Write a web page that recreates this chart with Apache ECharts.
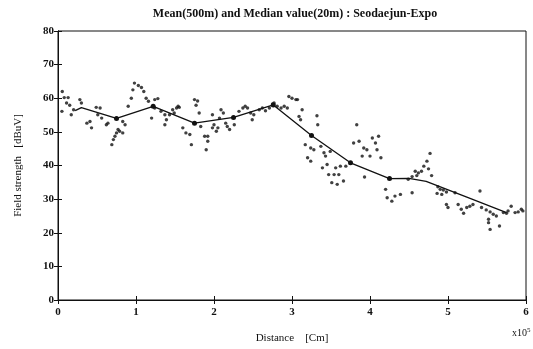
<!DOCTYPE html>
<html>
<head>
<meta charset="utf-8">
<script src="https://cdn.jsdelivr.net/npm/echarts@6/dist/echarts.min.js"></script>
<style>
  html, body { margin: 0; padding: 0; background: #fff; }
  #chart { width: 533px; height: 349px; }
</style>
</head>
<body>
<div id="chart"></div>
<script>
// median values (20m), distance in x10^5 Cm
const medianX = [
  0.05, 0.055, 0.08, 0.11, 0.13, 0.15, 0.17, 0.2, 0.28, 0.3, 0.37, 0.41, 0.43, 0.49, 0.51, 0.54, 0.56, 0.62, 0.64,
  0.69, 0.71, 0.73, 0.75, 0.77, 0.79, 0.83, 0.83, 0.86, 0.9, 0.94, 0.96, 0.98, 1.03, 1.07, 1.1, 1.13, 1.16, 1.2,
  1.24, 1.24, 1.28, 1.32, 1.37, 1.37, 1.39, 1.43, 1.47, 1.49, 1.52, 1.54, 1.555, 1.6, 1.64, 1.69, 1.71, 1.75,
  1.77, 1.79, 1.81, 1.83, 1.88, 1.9, 1.92, 1.92, 1.98, 1.98, 2.0, 2.03, 2.05, 2.07, 2.09, 2.12, 2.15, 2.17, 2.2,
  2.26, 2.32, 2.37, 2.4, 2.43, 2.47, 2.49, 2.51, 2.58, 2.62, 2.66, 2.71, 2.75, 2.77, 2.81, 2.86, 2.9, 2.94, 2.96,
  3.0, 3.05, 3.07, 3.09, 3.11, 3.13, 3.17, 3.2, 3.24, 3.24, 3.28, 3.32, 3.33, 3.37, 3.39, 3.41, 3.43, 3.45, 3.47,
  3.49, 3.51, 3.54, 3.56, 3.58, 3.6, 3.62, 3.66, 3.69, 3.79, 3.83, 3.86, 3.9, 3.92, 3.93, 3.96, 4.0, 4.03, 4.07,
  4.09, 4.11, 4.14, 4.2, 4.22, 4.28, 4.32, 4.39, 4.49, 4.54, 4.54, 4.58, 4.6, 4.62, 4.66, 4.69, 4.73, 4.75, 4.77,
  4.79, 4.86, 4.87, 4.9, 4.92, 4.94, 4.98, 4.98, 5.0, 5.09, 5.13, 5.17, 5.2, 5.24, 5.28, 5.32, 5.41, 5.43, 5.49,
  5.52, 5.52, 5.54, 5.54, 5.58, 5.62, 5.66, 5.71, 5.75, 5.77, 5.81, 5.86, 5.9, 5.94, 5.96
];
const medianY = [
  56.1, 62.0, 60.2, 58.6, 60.2, 57.9, 55.1, 56.6, 59.6, 58.6, 52.6, 53.1, 51.2, 57.3, 55.1, 57.1, 54.1, 52.1, 52.6,
  46.2, 47.7, 48.7, 49.7, 50.7, 50.2, 53.1, 49.7, 52.1, 57.6, 60.0, 62.5, 64.5, 63.8, 63.2, 62.0, 60.0, 59.1, 54.1,
  59.6, 57.1, 59.9, 56.1, 55.1, 52.1, 53.6, 55.1, 56.6, 55.6, 57.1, 57.6, 57.3, 51.2, 49.7, 49.2, 46.2, 59.6,
  57.9, 59.2, 55.6, 51.6, 48.7, 44.7, 48.7, 47.2, 55.1, 51.2, 52.1, 50.2, 51.2, 54.1, 56.6, 55.6, 52.6, 51.6, 50.7,
  52.1, 56.1, 57.1, 57.6, 57.1, 55.6, 53.6, 55.1, 56.6, 57.1, 56.3, 57.1, 58.3, 58.6, 57.6, 57.1, 57.6, 57.1, 60.5,
  60.0, 59.6, 59.6, 54.6, 53.6, 56.6, 46.2, 42.3, 45.2, 41.3, 44.7, 54.8, 52.1, 45.7, 39.3, 43.8, 42.8, 40.3, 37.3,
  44.2, 34.9, 37.3, 39.3, 34.4, 37.3, 39.8, 35.4, 39.8, 46.7, 52.1, 47.2, 42.8, 45.2, 36.6, 44.7, 42.8, 48.2, 46.7,
  44.7, 48.7, 42.3, 32.9, 30.4, 29.4, 30.9, 31.4, 35.9, 31.9, 36.7, 38.3, 37.0, 37.8, 38.3, 39.8, 41.3, 39.0, 43.6,
  37.0, 31.7, 33.7, 32.9, 31.4, 32.7, 32.1, 28.4, 27.5, 31.9, 28.4, 27.0, 25.8, 27.5, 27.9, 28.4, 32.4, 27.5, 26.8,
  24.0, 23.0, 26.2, 21.0, 25.5, 25.0, 22.0, 26.0, 25.8, 26.5, 27.9, 26.0, 26.2, 27.0, 26.5
];
// mean values (500m)
const meanX = [0.22, 0.3, 0.75, 1.22, 1.75, 2.25, 2.76, 3.25, 3.75, 4.25, 4.5, 4.72, 5.25, 5.75];
const meanY = [56.3, 57.2, 54.0, 57.6, 52.6, 54.3, 58.0, 48.9, 40.8, 36.1, 36.2, 35.3, 30.5, 26.0];
const meanMarked = [0.75, 1.22, 1.75, 2.25, 2.76, 3.25, 3.75, 4.25];

const xTicks = [0, 1, 2, 3, 4, 5, 6];
const yTicks = [0, 10, 20, 30, 40, 50, 60, 70, 80];

const chart = echarts.init(document.getElementById('chart'));
const font = 'Liberation Serif';
const ink = '#111';

const tickStyle = { show: true, inside: true, length: 4, lineStyle: { color: ink, width: 1 } };

chart.setOption({
  animation: false,
  backgroundColor: '#fff',
  title: {
    text: 'Mean(500m) and Median value(20m) : Seodaejun-Expo',
    left: 290, textAlign: 'center', top: 3,
    textStyle: { fontFamily: font, fontWeight: 'bold', fontSize: 12, color: ink }
  },
  grid: { left: 58, right: 7, top: 31, bottom: 48, show: true, borderColor: ink, borderWidth: 1 },
  xAxis: [{
    type: 'value', min: 0, max: 6, interval: 1,
    name: 'Distance    [Cm]', nameLocation: 'middle', nameGap: 33,
    nameTextStyle: { fontFamily: font, fontSize: 11, color: ink },
    axisLine: { lineStyle: { color: ink } },
    axisTick: tickStyle,
    axisLabel: { fontFamily: font, fontSize: 11, color: ink, fontWeight: 'bold', margin: 7,
      formatter: v => xTicks.includes(v) ? String(v) : '' },
    splitLine: { show: false }
  }, {
    type: 'value', min: 0, max: 6, interval: 1, position: 'top',
    axisLine: { lineStyle: { color: ink } }, axisTick: tickStyle,
    axisLabel: { show: false }, splitLine: { show: false }
  }],
  yAxis: [{
    type: 'value', min: 0, max: 80, interval: 10,
    name: 'Field strength   [dBuV]', nameLocation: 'middle', nameGap: 34,
    nameTextStyle: { fontFamily: font, fontSize: 11, color: ink },
    axisLine: { show: true, lineStyle: { color: ink } },
    axisTick: tickStyle,
    axisLabel: { fontFamily: font, fontSize: 11, color: ink, fontWeight: 'bold', margin: 4,
      formatter: v => yTicks.includes(v) ? String(v) : '' },
    splitLine: { show: false }
  }, {
    type: 'value', min: 0, max: 80, interval: 10, position: 'right',
    axisLine: { show: true, lineStyle: { color: ink } }, axisTick: tickStyle,
    axisLabel: { show: false }, splitLine: { show: false }
  }],
  graphic: [{
    type: 'text', left: 512, top: 327,
    style: {
      text: '{a|x10}{b|5}',
      rich: {
        a: { fontFamily: font, fontSize: 10, fill: ink },
        b: { fontFamily: font, fontSize: 7, fill: ink, verticalAlign: 'top', padding: [0, 0, 6, 0] }
      }
    }
  }],
  series: [{
    type: 'scatter',
    data: medianX.map((x, i) => [x, medianY[i]]),
    symbol: 'circle', symbolSize: 3.4,
    itemStyle: { color: ink }
  }, {
    type: 'line',
    data: meanX.map((x, i) => [x, meanY[i]]),
    symbol: 'circle',
    symbolSize: v => meanMarked.includes(v[0]) ? 5 : 0,
    lineStyle: { color: ink, width: 1.3 },
    itemStyle: { color: ink }
  }]
});
</script>
</body>
</html>
